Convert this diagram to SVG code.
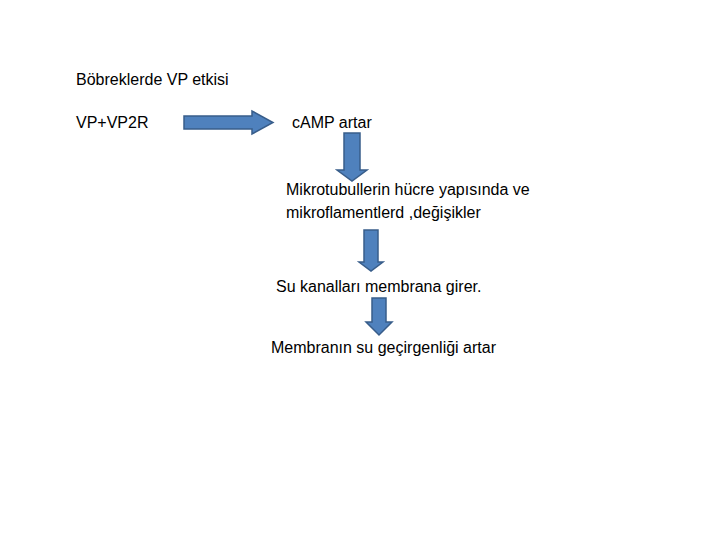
<svg xmlns="http://www.w3.org/2000/svg" width="720" height="540" viewBox="0 0 720 540">
<style>text{font-family:"Liberation Sans",Arial,sans-serif;font-size:16px;fill:#000}.a{fill:#4f81bd;stroke:#385d8a;stroke-width:1.5}</style>
<rect width="720" height="540" fill="#fff"/>
<g id="title"><text x="76" y="85">Böbreklerde VP etkisi</text></g>
<g id="n1"><text x="76" y="128">VP+VP2R</text></g>
<g id="n2"><text x="292" y="128">cAMP artar</text></g>
<g id="n3"><text x="286" y="195">Mikrotubullerin hücre yapısında ve</text><text x="286" y="218">mikroflamentlerd ,değişikler</text></g>
<g id="n4"><text x="276" y="292">Su kanalları membrana girer.</text></g>
<g id="n5"><text x="271" y="353">Membranın su geçirgenliği artar</text></g>
<g id="connectors">
<path class="a" d="M184,116H252V111L273,122.5L252,134V129H184Z"/>
<path class="a" d="M344,133H360V170H367L352,181L337,170H344Z"/>
<path class="a" d="M364,230H378V262H383L371,271L359,262H364Z"/>
<path class="a" d="M372,298H386V322H392L379,335L366,322H372Z"/>
</g>
</svg>
